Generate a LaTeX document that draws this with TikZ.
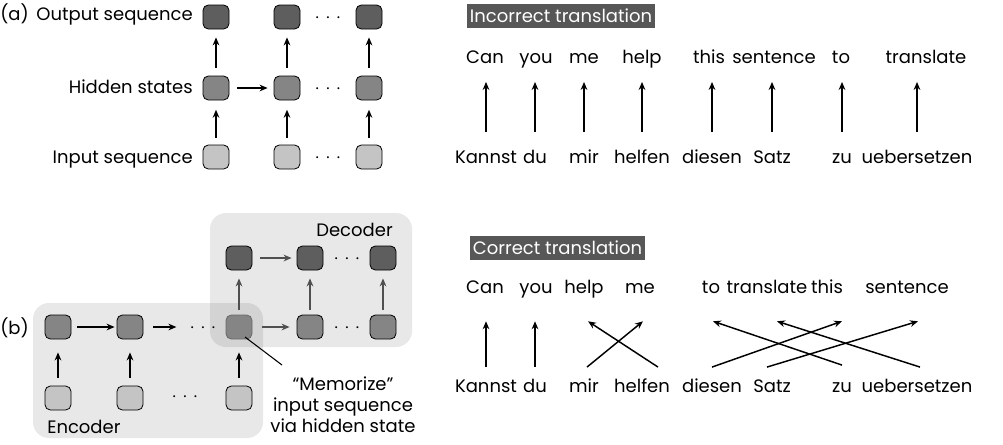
\documentclass[tikz,border=0pt]{standalone}
\usepackage{fontspec}
\setmainfont{Poppins}
\usetikzlibrary{arrows.meta}
\definecolor{outgray}{HTML}{5E5E5E}
\definecolor{hidgray}{HTML}{858585}
\definecolor{ingray}{HTML}{C4C4C4}
\definecolor{taggray}{HTML}{575757}
\definecolor{arrgray}{HTML}{505050}

\begin{document}
\begin{tikzpicture}[x=0.75pt, y=-0.75pt, >={Stealth[length=6pt, width=5pt]},
    font=\fontsize{13.5}{15.5}\selectfont,
    cell/.style={draw, line width=0.6pt, rounded corners=4pt, minimum width=19.5pt, minimum height=18pt, inner sep=0pt},
    outcell/.style={cell, fill=outgray},
    hidcell/.style={cell, fill=hidgray},
    incell/.style={cell, fill=ingray},
    dots/.style={anchor=base, inner sep=0pt},
    lab/.style={inner sep=0pt},
    word/.style={anchor=base, inner sep=0pt, text height=11pt, text depth=3pt},
    tag/.style={anchor=west, fill=taggray, text=white, inner xsep=2pt, inner ysep=0pt, minimum height=18pt},
    arr/.style={->, line width=1.1pt},
    ]
    \useasboundingbox (0,0) rectangle (1003,444);

    \node (a) at (0,20) [lab, anchor=base west] {(a)};
    \node (outlab) at (193,20) [lab, anchor=base east] {Output sequence};
    \node (hidlab) at (193,93) [lab, anchor=base east] {Hidden states};
    \node (inlab) at (193,163) [lab, anchor=base east] {Input sequence};
    \node (o1) at (216,17) [outcell] {};
    \node (o2) at (287,17) [outcell] {};
    \node (o3) at (369,17) [outcell] {};
    \node (h1) at (216,88) [hidcell] {};
    \node (h2) at (287,88) [hidcell] {};
    \node (h3) at (369,88) [hidcell] {};
    \node (i1) at (216,157) [incell] {};
    \node (i2) at (287,157) [incell] {};
    \node (i3) at (369,157) [incell] {};
    \node (odots) at (328,22) [dots] {${\cdot}\;{\cdot}\;{\cdot}$};
    \node (hdots) at (328,93) [dots] {${\cdot}\;{\cdot}\;{\cdot}$};
    \node (idots) at (328,162) [dots] {${\cdot}\;{\cdot}\;{\cdot}$};
    \draw [arr, shorten <=5pt, shorten >=7pt] (i1) -- (h1);
    \draw [arr, shorten <=5pt, shorten >=7pt] (i2) -- (h2);
    \draw [arr, shorten <=5pt, shorten >=7pt] (i3) -- (h3);
    \draw [arr, shorten <=6pt, shorten >=6pt] (h1) -- (o1);
    \draw [arr, shorten <=6pt, shorten >=6pt] (h2) -- (o2);
    \draw [arr, shorten <=6pt, shorten >=6pt] (h3) -- (o3);
    \draw [arr, shorten <=6pt, shorten >=4.5pt] (h1) -- (h2);

    \fill [black, fill opacity=0.09, rounded corners=12pt] (33,303) rectangle (263,438);
    \fill [black, fill opacity=0.09, rounded corners=12pt] (210,213) rectangle (412,347);
    \node (b) at (0,334) [lab, anchor=base west] {(b)};
    \node (enc) at (47,433) [lab, anchor=base west] {Encoder};
    \node (dec) at (393,236) [lab, anchor=base east] {Decoder};
    \node (eh1) at (58,327) [hidcell] {};
    \node (eh2) at (130,327) [hidcell] {};
    \node (eh3) at (239,327) [hidcell, draw=black!60] {};
    \node (ei1) at (58,398) [incell] {};
    \node (ei2) at (130,398) [incell] {};
    \node (ei3) at (239,398) [incell] {};
    \node (edots) at (203,332) [dots] {${\cdot}\;{\cdot}\;{\cdot}$};
    \node (eidots) at (185,401) [dots] {${\cdot}\;{\cdot}\;{\cdot}$};
    \node (dh2) at (310,327) [hidcell] {};
    \node (dh3) at (383,327) [hidcell] {};
    \node (do1) at (239,258) [outcell] {};
    \node (do2) at (310,258) [outcell] {};
    \node (do3) at (383,258) [outcell] {};
    \node (dhdots) at (347,332) [dots] {${\cdot}\;{\cdot}\;{\cdot}$};
    \node (dodots) at (347,263) [dots] {${\cdot}\;{\cdot}\;{\cdot}$};
    \draw [arr, shorten <=6pt, shorten >=9.75pt] (ei1) -- (eh1);
    \draw [arr, shorten <=6pt, shorten >=9.75pt] (ei2) -- (eh2);
    \draw [arr, shorten <=6pt, shorten >=9.75pt] (ei3) -- (eh3);
    \draw [arr, shorten <=4.5pt, shorten >=1.5pt] (eh1) -- (eh2);
    \draw [arr, shorten <=7.5pt, shorten >=9.75pt] (eh2) -- (eh2 -| edots.west);
    \draw [arr, arrgray, shorten <=7.5pt, shorten >=5.25pt] (eh3) -- (dh2);
    \draw [arr, arrgray, shorten <=6pt, shorten >=3.75pt] (do1) -- (do2);
    \draw [arr, arrgray, shorten <=3.75pt, shorten >=6pt] (eh3) -- (do1);
    \draw [arr, arrgray, shorten <=3.75pt, shorten >=6pt] (dh2) -- (do2);
    \draw [arr, arrgray, shorten <=3.75pt, shorten >=6pt] (dh3) -- (do3);
    \node (mem) at (343,377) [lab, anchor=north, align=center] {“Memorize”\\input sequence\\via hidden state};
    \draw [line width=0.8pt] ([shift={(6,10)}]eh3.center) -- ([shift={(-61,-12)}]mem.north);

    \node (inc) at (467,16) [tag] {Incorrect translation};
    \node (ican) at (485,63) [word] {Can};
    \node (iyou) at (536,63) [word] {you};
    \node (ime) at (584,63) [word] {me};
    \node (ihelp) at (642,63) [word] {help};
    \node (ithis) at (709,63) [word] {this};
    \node (isent) at (774,63) [word] {sentence};
    \node (ito) at (841,63) [word] {to};
    \node (itrans) at (926,63) [word] {translate};
    \node (ikannst) at (486,163) [word] {Kannst};
    \node (idu) at (535,163) [word] {du};
    \node (imir) at (584,163) [word] {mir};
    \node (ihelfen) at (642,163) [word] {helfen};
    \node (idiesen) at (712,163) [word] {diesen};
    \node (isatz) at (772,163) [word] {Satz};
    \node (izu) at (842,163) [word] {zu};
    \node (iueber) at (917,163) [word] {uebersetzen};
    \draw [arr, shorten <=12pt, shorten >=11pt] (ikannst.north) -- (ikannst.north |- ican.south);
    \draw [arr, shorten <=12pt, shorten >=11pt] (idu.north) -- (idu.north |- iyou.south);
    \draw [arr, shorten <=12pt, shorten >=11pt] (imir.north) -- (imir.north |- ime.south);
    \draw [arr, shorten <=12pt, shorten >=11pt] (ihelfen.north) -- (ihelfen.north |- ihelp.south);
    \draw [arr, shorten <=12pt, shorten >=11pt] (idiesen.north) -- (idiesen.north |- ithis.south);
    \draw [arr, shorten <=12pt, shorten >=11pt] (isatz.north) -- (isatz.north |- isent.south);
    \draw [arr, shorten <=12pt, shorten >=11pt] (izu.north) -- (izu.north |- ito.south);
    \draw [arr, shorten <=12pt, shorten >=11pt] (iueber.north) -- (iueber.north |- itrans.south);

    \node (cor) at (470,248) [tag] {Correct translation};
    \node (ccan) at (485,293) [word] {Can};
    \node (cyou) at (536,293) [word] {you};
    \node (chelp) at (584,293) [word] {help};
    \node (cme) at (640,293) [word] {me};
    \node (cto) at (711,293) [word] {to};
    \node (ctrans) at (767,293) [word] {translate};
    \node (cthis) at (827,293) [word] {this};
    \node (csent) at (907,293) [word] {sentence};
    \node (ckannst) at (486,392) [word] {Kannst};
    \node (cdu) at (535,392) [word] {du};
    \node (cmir) at (584,392) [word] {mir};
    \node (chelfen) at (642,392) [word] {helfen};
    \node (cdiesen) at (712,392) [word] {diesen};
    \node (csatz) at (772,392) [word] {Satz};
    \node (czu) at (842,392) [word] {zu};
    \node (cueber) at (917,392) [word] {uebersetzen};
    \draw [arr, shorten <=7.5pt, shorten >=18pt] (ckannst.north) -- (ckannst.north |- ccan.south);
    \draw [arr, shorten <=7.5pt, shorten >=18pt] (cdu.north) -- (cdu.north |- cyou.south);
    \draw [arr] ([shift={(3,-10)}]cmir.north) -- ([shift={(3,24)}]cme.south);
    \draw [arr] ([shift={(16,-10)}]chelfen.north) -- ([shift={(4,24)}]chelp.south);
    \draw [arr] ([shift={(0,-10)}]cdiesen.north) -- ([shift={(15,24)}]cthis.south);
    \draw [arr] ([shift={(-5,-10)}]csatz.north) -- ([shift={(11,24)}]csent.south);
    \draw [arr] ([shift={(0,-12)}]czu.north) -- ([shift={(2,24)}]cto.south);
    \draw [arr] ([shift={(3,-10)}]cueber.north) -- ([shift={(10,24)}]ctrans.south);
\end{tikzpicture}
\end{document}
